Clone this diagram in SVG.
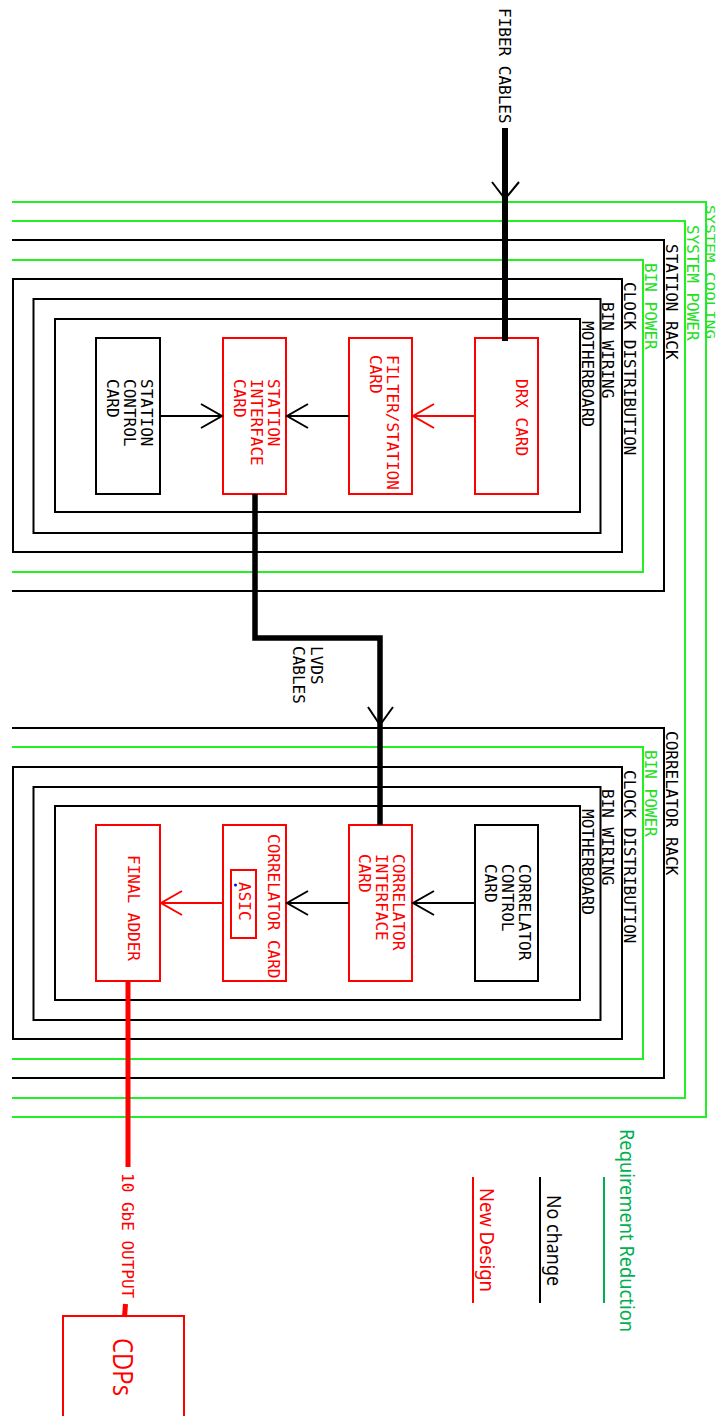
<svg xmlns="http://www.w3.org/2000/svg" width="716" height="1416" viewBox="0 0 716 1416">
<style>
.bg{fill:#fff}
.fr{fill:none;stroke:#000;stroke-width:2}
.gr{fill:none;stroke:#22f022;stroke-width:2}
.cb{fill:#fff;stroke:#000;stroke-width:2}
.cr{fill:#fff;stroke:#f00;stroke-width:2}
.m{font-family:"DejaVu Sans Mono","Liberation Mono",monospace;font-size:16px}
.s{font-family:"Noto Sans","Open Sans",sans-serif;font-size:19px}
.tk{fill:#000}
.tr{fill:#f00}
.tg{fill:#22e022}
.ab{fill:none;stroke:#000;stroke-width:2}
.ar{fill:none;stroke:#f00;stroke-width:2}
</style>
<defs>
<marker id="mb" markerUnits="userSpaceOnUse" markerWidth="30" markerHeight="30" refX="22" refY="13" orient="auto">
<path d="M1,1 L22,13 L1,25" fill="none" stroke="#000" stroke-width="2"/>
</marker>
<marker id="mr" markerUnits="userSpaceOnUse" markerWidth="30" markerHeight="30" refX="22" refY="13" orient="auto">
<path d="M1,1 L22,13 L1,25" fill="none" stroke="#f00" stroke-width="2"/>
</marker>
</defs>
<rect class="bg" x="0" y="0" width="716" height="1416"/>

<g id="system-cooling">
<polyline class="gr" points="12,202 706,202 706,1117 12,1117"/>
<text class="m tg" font-size="12" textLength="134" lengthAdjust="spacingAndGlyphs" transform="translate(705.5,205) rotate(90)" style="font-size:12px">SYSTEM COOLING</text>
</g>
<g id="system-power">
<polyline class="gr" points="12,221 685,221 685,1098 12,1098"/>
<text class="m tg" transform="translate(686.5,225) rotate(90)">SYSTEM POWER</text>
</g>

<g id="station-rack">
<polyline class="fr" points="12,240 664,240 664,591 12,591"/>
<text class="m tk" transform="translate(665.5,244) rotate(90)">STATION RACK</text>
</g>
<g id="station-bin-power">
<polyline class="gr" points="12,260 643,260 643,572 12,572"/>
<text class="m tg" transform="translate(644.5,263) rotate(90)">BIN POWER</text>
</g>
<g id="station-clock">
<rect class="fr" x="13" y="279" width="609" height="273"/>
<text class="m tk" transform="translate(623.5,282) rotate(90)">CLOCK DISTRIBUTION</text>
</g>
<g id="station-bin-wiring">
<rect class="fr" x="33.5" y="299" width="567" height="234"/>
<text class="m tk" transform="translate(602,302) rotate(90)">BIN WIRING</text>
</g>
<g id="station-motherboard">
<rect class="fr" x="55" y="319" width="525" height="193"/>
<text class="m tk" transform="translate(581.5,321) rotate(90)">MOTHERBOARD</text>
</g>

<g id="station-control-card">
<rect class="cb" x="96" y="338" width="64" height="156"/>
<text class="m tk" transform="translate(141,379) rotate(90)">STATION</text>
<text class="m tk" transform="translate(124,379) rotate(90)">CONTROL</text>
<text class="m tk" transform="translate(107,379) rotate(90)">CARD</text>
</g>
<g id="station-interface-card">
<rect class="cr" x="223" y="338" width="63" height="156"/>
<text class="m tr" transform="translate(268,379) rotate(90)">STATION</text>
<text class="m tr" transform="translate(251,379) rotate(90)">INTERFACE</text>
<text class="m tr" transform="translate(234,379) rotate(90)">CARD</text>
</g>
<g id="filter-station-card">
<rect class="cr" x="349" y="338" width="63" height="156"/>
<text class="m tr" transform="translate(387,355) rotate(90)">FILTER/STATION</text>
<text class="m tr" transform="translate(370,355) rotate(90)">CARD</text>
</g>
<g id="drx-card">
<rect class="cr" x="475" y="338" width="63" height="156"/>
<text class="m tr" transform="translate(516,379) rotate(90)">DRX CARD</text>
</g>

<g id="correlator-rack">
<polyline class="fr" points="12,728 664,728 664,1078 12,1078"/>
<text class="m tk" transform="translate(665.5,731) rotate(90)">CORRELATOR RACK</text>
</g>
<g id="correlator-bin-power">
<polyline class="gr" points="12,747 643,747 643,1059 12,1059"/>
<text class="m tg" transform="translate(644.5,750) rotate(90)">BIN POWER</text>
</g>
<g id="correlator-clock">
<rect class="fr" x="13" y="767" width="609" height="272"/>
<text class="m tk" transform="translate(623.5,770) rotate(90)">CLOCK DISTRIBUTION</text>
</g>
<g id="correlator-bin-wiring">
<rect class="fr" x="33.5" y="787" width="567" height="233"/>
<text class="m tk" transform="translate(602,789) rotate(90)">BIN WIRING</text>
</g>
<g id="correlator-motherboard">
<rect class="fr" x="55" y="806" width="525" height="194"/>
<text class="m tk" transform="translate(581.5,809) rotate(90)">MOTHERBOARD</text>
</g>

<g id="correlator-control-card">
<rect class="cb" x="475" y="825" width="63" height="156"/>
<text class="m tk" transform="translate(519,864) rotate(90)">CORRELATOR</text>
<text class="m tk" transform="translate(502,864) rotate(90)">CONTROL</text>
<text class="m tk" transform="translate(485,864) rotate(90)">CARD</text>
</g>
<g id="correlator-interface-card">
<rect class="cr" x="349" y="825" width="63" height="156"/>
<text class="m tr" transform="translate(393,854) rotate(90)">CORRELATOR</text>
<text class="m tr" transform="translate(376,854) rotate(90)">INTERFACE</text>
<text class="m tr" transform="translate(359,854) rotate(90)">CARD</text>
</g>
<g id="correlator-card">
<rect class="cr" x="223" y="825" width="63" height="156"/>
<text class="m tr" transform="translate(267.5,834) rotate(90)">CORRELATOR CARD</text>
<rect class="cr" x="231" y="870" width="25" height="68"/>
<text class="m tr" transform="translate(238.5,882) rotate(90)">ASIC</text>
<circle cx="235.5" cy="885" r="1.5" fill="#00f"/>
</g>
<g id="final-adder">
<rect class="cr" x="96" y="825" width="64" height="156"/>
<text class="m tr" transform="translate(128,855) rotate(90)">FINAL ADDER</text>
</g>

<g id="cdps">
<rect class="cr" x="63" y="1316" width="121" height="110"/>
<text transform="translate(113,1338) rotate(90)" font-family="'Open Sans','Noto Sans',sans-serif" font-size="27" fill="#f00" textLength="58" lengthAdjust="spacingAndGlyphs">CDPs</text>
</g>

<g id="connectors">
<line x1="505" y1="128" x2="505" y2="341" stroke="#000" stroke-width="6"/>
<polyline class="ab" points="492,182 505,199 519,182" stroke-width="2.5"/>
<text class="m tk" transform="translate(498.5,8) rotate(90)">FIBER CABLES</text>

<line x1="160" y1="416" x2="222" y2="416" stroke="#000" stroke-width="2" marker-end="url(#mb)"/>
<line x1="349" y1="416" x2="287" y2="416" stroke="#000" stroke-width="2" marker-end="url(#mb)"/>
<line x1="475" y1="416" x2="413" y2="416" stroke="#f00" stroke-width="2" marker-end="url(#mr)"/>

<polyline points="255,494 255,638 380,638 380,825" fill="none" stroke="#000" stroke-width="5.5"/>
<polyline class="ab" points="368,707 380,725 393,707" stroke-width="2.5"/>
<text class="m tk" transform="translate(311,646) rotate(90)">LVDS</text>
<text class="m tk" transform="translate(293,646) rotate(90)">CABLES</text>

<line x1="475" y1="903" x2="413" y2="903" stroke="#000" stroke-width="2" marker-end="url(#mb)"/>
<line x1="349" y1="903" x2="287" y2="903" stroke="#000" stroke-width="2" marker-end="url(#mb)"/>
<line x1="223" y1="903" x2="161" y2="903" stroke="#f00" stroke-width="2" marker-end="url(#mr)"/>

<line x1="128" y1="981" x2="128" y2="1167" stroke="#f00" stroke-width="5"/>
<text class="m tr" transform="translate(122,1173) rotate(90)">10 GbE OUTPUT</text>
<line x1="125.5" y1="1304" x2="124.5" y2="1317" stroke="#f00" stroke-width="5"/>
</g>

<g id="legend">
<line x1="604" y1="1177" x2="604" y2="1303" stroke="#00b050" stroke-width="2"/>
<text class="s" fill="#00b050" textLength="203" lengthAdjust="spacingAndGlyphs" transform="translate(620,1129) rotate(90)">Requirement Reduction</text>
<line x1="540" y1="1177" x2="540" y2="1303" stroke="#000" stroke-width="2"/>
<text class="s" fill="#000" textLength="91" lengthAdjust="spacingAndGlyphs" transform="translate(547,1195) rotate(90)">No change</text>
<line x1="473" y1="1177" x2="473" y2="1303" stroke="#f00" stroke-width="2"/>
<text class="s" fill="#f00" textLength="104" lengthAdjust="spacingAndGlyphs" transform="translate(480,1188) rotate(90)">New Design</text>
</g>
</svg>
